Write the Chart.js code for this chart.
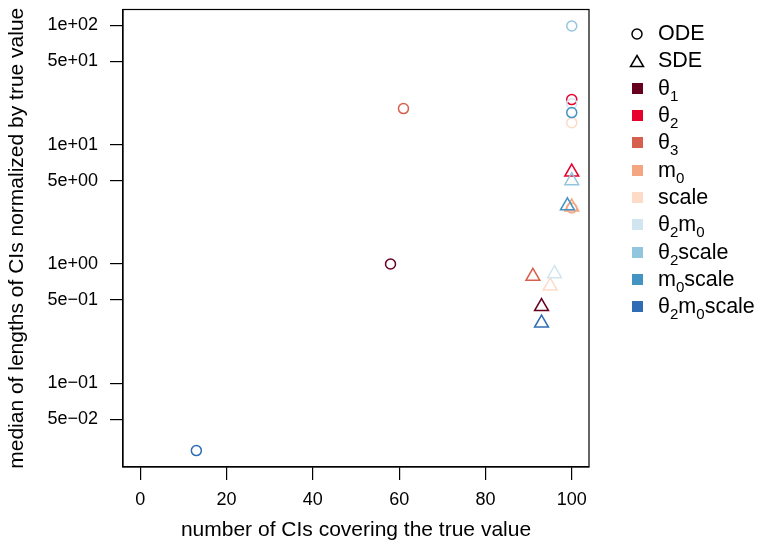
<!DOCTYPE html>
<html>
<head>
<meta charset="utf-8">
<script src="https://cdn.jsdelivr.net/npm/chart.js@4.4.1/dist/chart.umd.min.js"></script>
<style>
  html, body { margin: 0; padding: 0; background: #fff; }
  #wrap { position: relative; width: 760px; height: 547px; }
  #legend {
    position: absolute; left: 626px; top: 20px;
    font-family: "Liberation Sans", Arial, sans-serif; font-size: 21.5px; color: #000;
  }
  #legend .item { height: 27.3px; display: flex; align-items: center; white-space: nowrap; }
  #legend .sym { width: 22px; display: flex; justify-content: center; align-items: center; margin-right: 10px; }
  #legend .sq { width: 11px; height: 11px; }
  #legend sub { font-size: 70%; vertical-align: -0.4em; line-height: 0; }
</style>
</head>
<body>
<div id="wrap">
  <canvas id="chart" width="760" height="547"></canvas>
  <div id="legend"></div>
</div>
<script>
// parameter names (legend html) and colours
const paramNames = ["θ1", "θ2", "θ3", "m0", "scale", "θ2m0", "θ2scale", "m0scale", "θ2m0scale"];
const paramLabels = ["θ<sub>1</sub>", "θ<sub>2</sub>", "θ<sub>3</sub>", "m<sub>0</sub>", "scale",
  "θ<sub>2</sub>m<sub>0</sub>", "θ<sub>2</sub>scale", "m<sub>0</sub>scale", "θ<sub>2</sub>m<sub>0</sub>scale"];
const paramColors = ["#67001F", "#E8002D", "#D6604D", "#F4A582", "#FDDBC7", "#D1E5F0", "#92C5DE", "#4393C3", "#2E6DB4"];

// ODE fits: coverage count and median CI length / true value
const odeCoverage = [58, 100, 61, 100, 100, 100, 100, 100, 13];
const odeLength = [1.0, 23.9, 20.1, 2.95, 15.3, 22.1, 99, 18.6, 0.0273];

// SDE fits
const sdeCoverage = [93, 100, 91, 100, 95, 96, 100, 99, 93];
const sdeLength = [0.44, 5.9, 0.79, 3.0, 0.655, 0.83, 5.0, 3.08, 0.32];

// axis ticks
const xTickVals = [0, 20, 40, 60, 80, 100];
const yTickVals = [0.05, 0.1, 0.5, 1, 5, 10, 50, 100];
const yTickLabels = ["5e−02", "1e−01", "5e−01", "1e+00", "5e+00", "1e+01", "5e+01", "1e+02"];

const FONT = "'Liberation Sans', Arial, sans-serif";

const datasets = [];
paramNames.forEach((name, i) => {
  datasets.push({
    label: "ODE " + name,
    data: [{ x: odeCoverage[i], y: odeLength[i] }],
    pointStyle: "circle",
    pointRadius: 5,
    pointBorderWidth: 1.5,
    borderColor: paramColors[i],
    backgroundColor: "rgba(0,0,0,0)",
    order: 20 - i,
  });
  datasets.push({
    label: "SDE " + name,
    data: [{ x: sdeCoverage[i], y: sdeLength[i] }],
    pointStyle: "triangle",
    pointRadius: 8,
    pointBorderWidth: 1.5,
    borderColor: paramColors[i],
    backgroundColor: "rgba(0,0,0,0)",
    order: 10 - i,
  });
});

// box round the plot region
const boxPlugin = {
  id: "box",
  afterDraw(chart) {
    const { ctx, chartArea } = chart;
    ctx.save();
    ctx.strokeStyle = "#000";
    ctx.lineWidth = 1.2;
    ctx.strokeRect(chartArea.left, chartArea.top, chartArea.right - chartArea.left, chartArea.bottom - chartArea.top);
    ctx.restore();
  },
};

new Chart(document.getElementById("chart"), {
  type: "scatter",
  data: { datasets },
  plugins: [boxPlugin],
  options: {
    responsive: false,
    animation: false,
    devicePixelRatio: 1,
    layout: { padding: { top: 6, right: 171, left: 0, bottom: 0 } },
    plugins: { legend: { display: false }, tooltip: { enabled: false } },
    scales: {
      x: {
        type: "linear",
        min: -4,
        max: 104,
        afterBuildTicks(scale) {
          scale.ticks = xTickVals.map((v) => ({ value: v }));
        },
        afterFit(scale) {
          scale.height = 80;
          scale.paddingLeft = 0;
          scale.paddingRight = 0;
        },
        grid: { drawOnChartArea: false, tickLength: 13, color: "#000", lineWidth: 1.2 },
        border: { color: "#000", width: 1.2 },
        ticks: { color: "#000", font: { family: FONT, size: 18 }, padding: 9, maxRotation: 0, autoSkip: false },
        title: {
          display: true,
          text: "number of CIs covering the true value",
          color: "#000",
          font: { family: FONT, size: 21 },
          padding: { top: 0, bottom: 4 },
        },
      },
      y: {
        type: "logarithmic",
        min: 0.0199,
        max: 136,
        afterBuildTicks(scale) {
          scale.ticks = yTickVals.map((v) => ({ value: v }));
        },
        afterFit(scale) {
          scale.width = 123;
          // labels sit well inside the axis, no need for the edge padding
          scale.paddingTop = 0;
          scale.paddingBottom = 0;
        },
        grid: { drawOnChartArea: false, tickLength: 13, color: "#000", lineWidth: 1.2 },
        border: { color: "#000", width: 1.2 },
        ticks: {
          color: "#000",
          font: { family: FONT, size: 18 },
          padding: 12,
          autoSkip: false,
          callback(value) {
            const k = yTickVals.indexOf(value);
            return k >= 0 ? yTickLabels[k] : "";
          },
        },
        title: {
          display: true,
          text: "median of lengths of CIs normalized by true value",
          color: "#000",
          font: { family: FONT, size: 21 },
          padding: { top: 5, bottom: 0 },
        },
      },
    },
  },
});

// legend: shape entries, then colour entries
const legend = document.getElementById("legend");
const shapes = [
  ["<svg width='14' height='14'><circle cx='7' cy='7' r='5' fill='none' stroke='#000' stroke-width='1.5'/></svg>", "ODE"],
  ["<svg width='16' height='14'><polygon points='8,1.5 14.5,12.5 1.5,12.5' fill='none' stroke='#000' stroke-width='1.5'/></svg>", "SDE"],
];
shapes.forEach(([svg, text]) => {
  legend.insertAdjacentHTML("beforeend", `<div class="item"><span class="sym">${svg}</span><span>${text}</span></div>`);
});
paramLabels.forEach((lab, i) => {
  legend.insertAdjacentHTML("beforeend",
    `<div class="item"><span class="sym"><span class="sq" style="background:${paramColors[i]}"></span></span><span>${lab}</span></div>`);
});
</script>
</body>
</html>
